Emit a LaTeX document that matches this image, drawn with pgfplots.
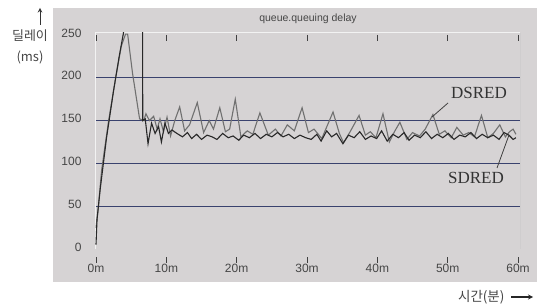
\documentclass[border=0pt]{standalone}
\usepackage{fontspec}
\setmainfont{Liberation Sans}
\newfontfamily\seriffont{Liberation Serif}
\newfontfamily\krfont{Noto Sans CJK KR}
\usepackage{pgfplots}
\pgfplotsset{compat=1.18}
\definecolor{panelbg}{RGB}{214,211,212}
\definecolor{gridnavy}{RGB}{58,66,110}
\definecolor{darkline}{RGB}{40,40,40}
\definecolor{grayline}{RGB}{112,112,112}
\definecolor{labelgray}{RGB}{70,70,70}
\begin{document}
\begin{tikzpicture}[x=1pt,y=1pt]
\path[use as bounding box] (0,0) rectangle (543,304);
\fill[panelbg] (53,22) rectangle (537,296);
\begin{axis}[
  at={(95pt,55pt)}, anchor=south west,
  scale only axis, width=425pt, height=216pt,
  xmin=-0.14, xmax=60.28, ymin=0, ymax=252.3,
  axis line style={draw=none},
  xtick={0,10,20,30,40,50,60},
  xticklabels={0m,10m,20m,30m,40m,50m,60m},
  ytick={0,50,100,150,200,250},
  yticklabels={0,50,100,150,200,250},
  extra y ticks={50,100,150,200},
  extra y tick labels={},
  extra y tick style={grid=major, major grid style={gridnavy, line width=0.8pt}, tick style={draw=none}},
  tick align=outside,
  major tick length=6pt,
  xtick style={draw=black!75, line width=0.9pt, yshift=-8pt},
  ytick style={draw=none},
  tick label style={font=\fontsize{12}{12}\selectfont, text=labelgray},
  xticklabel style={yshift=-6pt},
  yticklabel style={xshift=-4pt, yshift=2pt},
  clip=true,
]
\draw[white!95!black, line width=1pt] (rel axis cs:0,0) -- (rel axis cs:0,1) -- (rel axis cs:1,1);
\draw[black!35, line width=1pt] (rel axis cs:1,1) -- (rel axis cs:1,0);
\draw[black!65, line width=0.7pt] (rel axis cs:0,0) -- (rel axis cs:1,0);
% DSRED (gray)
\addplot[grayline, line width=1.1pt] coordinates {
(0,25) (0.3,45) (0.8,92) (1.8,150) (2.8,200) (3.6,237) (4.2,251) (4.5,251) (5.2,205) (6.2,152) (6.8,150)
(7.1,158) (7.6,150) (8.2,155) (8.7,140) (9.1,152) (9.6,137) (10.1,154) (10.6,132) (11.2,150) (11.9,166)
(12.6,138) (13.3,145) (14.4,171) (15.3,136) (16.1,150) (16.7,140) (17.6,165) (18.4,137) (19.0,140)
(19.8,175) (20.6,131) (21.5,138) (22.3,134) (23.3,159) (24.5,133) (25.5,140) (26.3,132) (27.2,145)
(28.2,138) (29.3,165) (30.2,136) (31,140) (32.1,129) (33.7,160) (34.6,135) (35.2,124) (36.2,138)
(37.4,156) (38.3,133) (39,137) (39.8,130) (40.8,158) (41.7,125) (42.5,138) (43.2,148) (44.2,128)
(45,136) (46,132) (46.8,140) (47.9,157) (48.8,134) (49.6,138) (50.5,130) (51.3,142) (52.2,133)
(53,136) (53.8,131) (54.8,156) (55.7,130) (56.5,135) (57.4,145) (58.2,131) (58.8,137) (59.3,140) (59.7,134)
};
% SDRED (dark)
\addplot[darkline, line width=1.1pt] coordinates {
(0,5) (0.15,35) (0.6,70) (1.5,130) (2.5,185) (3.3,225) (3.9,252) (4.3,320) (6.6,320) (6.65,150)
(7.0,152) (7.4,123) (7.9,147) (8.4,135) (8.9,143) (9.3,125) (9.8,147) (10.3,135) (10.8,139) (11.5,135)
(12.3,131) (13,136) (13.6,129) (14.3,134) (15,128) (15.8,133) (16.5,131) (17.2,128) (18,135) (18.8,130)
(19.5,132) (20.3,127) (21,133) (21.8,130) (22.6,135) (23.4,129) (24.2,134) (25,131) (25.8,136) (26.6,131)
(27.4,134) (28.2,129) (29,133) (29.8,130) (30.6,128) (31.4,134) (32,126) (32.8,138) (33.5,131) (34.2,135)
(35.1,123) (35.9,133) (36.7,130) (37.5,137) (38.3,128) (39.1,132) (39.9,129) (40.6,138) (41.4,126)
(42.2,134) (43,130) (43.8,136) (44.5,127) (45.3,133) (46.1,130) (46.9,137) (47.7,129) (48.5,134)
(49.3,130) (50.1,135) (50.9,128) (51.7,133) (52.5,131) (53.3,136) (54.1,129) (54.9,134) (55.7,130)
(56.5,133) (57.3,128) (58,136) (58.7,133) (59.3,128) (59.7,130)
};
\end{axis}
% title
\node[text=labelgray, font=\fontsize{10.5}{12}\selectfont] at (308,285) {queue.queuing delay};
% y-axis caption
\draw[-stealth, line width=1pt, black!80] (40,279) -- (40,296);
\node[text=labelgray, font=\krfont\fontsize{13}{14}\selectfont] at (30,268) {딜레이};
\node[text=labelgray, font=\krfont\fontsize{13}{14}\selectfont] at (30,247) {(ms)};
% x-axis caption
\node[text=labelgray, font=\krfont\fontsize{13.5}{14}\selectfont, anchor=east] at (508,7) {시간(분)};
\draw[-stealth, line width=1.2pt, black!85] (511,7) -- (533,7);
% series labels
\node[text=black!80, font=\seriffont\fontsize{17}{18}\selectfont] at (479,211) {DSRED};
\node[text=black!80, font=\seriffont\fontsize{17}{18}\selectfont] at (476,126) {SDRED};
\draw[black!75, line width=0.8pt] (448,201) -- (432,187);
\draw[black!75, line width=0.8pt] (497,136) -- (509,169);
\end{tikzpicture}
\end{document}
